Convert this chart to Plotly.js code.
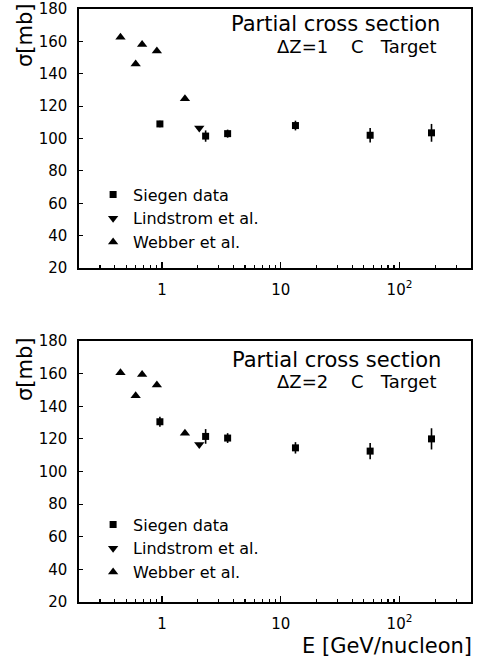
<!DOCTYPE html>
<html><head><meta charset="utf-8">
<script src="https://cdn.plot.ly/plotly-3.0.1.min.js"></script>
<style>html,body{margin:0;padding:0;background:#fff;}</style>
</head><body>
<div id="chart" style="width:477px;height:659px;"></div>
<script>
// ---- data ----
const E_siegen = [0.96, 2.33, 3.57, 13.3, 56.6, 186];
const sig_siegen_dz1 = [109, 101.5, 103, 108, 102, 103.5];
const err_siegen_dz1 = [2, 3.5, 2.5, 3, 4.5, 5.5];
const sig_siegen_dz2 = [130.5, 121.5, 120.5, 114.5, 112.5, 120];
const err_siegen_dz2 = [3, 4.5, 3, 3.5, 5, 6.5];

const E_lindstrom = [2.06];
const sig_lindstrom_dz1 = [106.5];
const sig_lindstrom_dz2 = [116.5];

const E_webber = [0.447, 0.6, 0.68, 0.905, 1.56];
const sig_webber_dz1 = [162.5, 146, 158, 154, 124.5];
const sig_webber_dz2 = [160.5, 146.5, 159.5, 153, 123.5];

const xTickVals = [1, 10, 100];
const xTickText = ['1', '10', '10<sup>2</sup>'];
const xMinorVals = [0.3,0.4,0.5,0.6,0.7,0.8,0.9,2,3,4,5,6,7,8,9,20,30,40,50,60,70,80,90,200,300];
const legendNames = ['Siegen data', 'Lindstrom et al.', 'Webber et al.'];

// ---- style ----
const FONT = 'DejaVu Sans';
const TOP = 9, BOT = 602, LEFT = 79, RIGHT = 471;
const H = BOT - TOP, W = RIGHT - LEFT;
function py(p){ return (BOT - p) / H; }
function px(p){ return (p - LEFT) / W; }
function xAxis(anchor){
  return {
    type:'log', range:[Math.log10(0.2), Math.log10(400)], anchor:anchor,
    tickmode:'array', tickvals:xTickVals, ticktext:xTickText,
    ticks:'inside', ticklen:6, tickwidth:1.3, tickcolor:'#000',
    minor:{tickmode:'array', tickvals:xMinorVals, ticks:'inside', ticklen:3, tickwidth:1.2, tickcolor:'#000'},
    showline:true, mirror:true, linewidth:1.6, linecolor:'#000',
    showgrid:false, zeroline:false, ticklabelstandoff:7, ticklabeloverflow:'allow',
    tickfont:{family:FONT, size:15, color:'#000'}
  };
}
function yAxis(domain, anchor){
  return {
    range:[20,180], dtick:20, tick0:20, domain:domain, anchor:anchor,
    ticks:'inside', ticklen:4, tickwidth:1.2, tickcolor:'#000',
    showline:true, mirror:true, linewidth:1.6, linecolor:'#000',
    showgrid:false, zeroline:false, ticklabelstandoff:7, ticklabeloverflow:'allow',
    tickfont:{family:FONT, size:15, color:'#000'}
  };
}
function traces(xa, ya, leg, sigS, errS, sigL, sigW){
  return [
    {x:E_siegen, y:sigS, xaxis:xa, yaxis:ya, legend:leg, name:legendNames[0], type:'scatter', mode:'markers',
     marker:{symbol:'square', size:7, color:'#000'},
     error_y:{type:'data', array:errS, visible:true, width:0, thickness:1.6, color:'#000'}},
    {x:E_lindstrom, y:sigL, xaxis:xa, yaxis:ya, legend:leg, name:legendNames[1], type:'scatter', mode:'markers',
     marker:{symbol:'triangle-down', size:9, color:'#000'}},
    {x:E_webber, y:sigW, xaxis:xa, yaxis:ya, legend:leg, name:legendNames[2], type:'scatter', mode:'markers',
     marker:{symbol:'triangle-up', size:9, color:'#000'}}
  ];
}
const data = [].concat(
  traces('x','y','legend', sig_siegen_dz1, err_siegen_dz1, sig_lindstrom_dz1, sig_webber_dz1),
  traces('x2','y2','legend2', sig_siegen_dz2, err_siegen_dz2, sig_lindstrom_dz2, sig_webber_dz2)
);
function legendCfg(topPx){
  return {x:0.036, y:py(topPx), xanchor:'left', yanchor:'top', bgcolor:'rgba(0,0,0,0)', borderwidth:0,
    itemwidth:30, font:{family:FONT, size:16, color:'#000'}, traceorder:'normal', itemclick:false};
}
const f21 = {family:FONT, size:21, color:'#000'};
const f18 = {family:FONT, size:18, color:'#000'};
function txt(text, x, y, font, xanchor, angle){
  return {text:text, xref:'paper', yref:'paper', x:px(x), y:py(y), xanchor:xanchor||'center', yanchor:'middle',
    textangle:angle||0, showarrow:false, font:font};
}
const layout = {
  width:477, height:659,
  margin:{l:LEFT, r:477-RIGHT, t:TOP, b:659-BOT},
  paper_bgcolor:'#fff', plot_bgcolor:'#fff',
  showlegend:true,
  xaxis: xAxis('y'),
  yaxis: yAxis([py(268), 1], 'x'),
  xaxis2: xAxis('y2'),
  yaxis2: yAxis([0, py(341)], 'x2'),
  legend: legendCfg(177.5),
  legend2: legendCfg(507.5),
  annotations:[
    txt('Partial cross section', 335, 24, f21),
    txt('ΔZ=1    C   Target', 357, 47, f18),
    txt('Partial cross section', 336, 360, f21),
    txt('ΔZ=2    C   Target', 357, 381, f18),
    txt('σ[mb]', 25, 36, f21, 'center', -90),
    txt('σ[mb]', 25, 370, f21, 'center', -90),
    txt('E [GeV/nucleon]', 474, 646, f21, 'right')
  ]
};
Plotly.newPlot('chart', data, layout, {staticPlot:true, displayModeBar:false});
</script>
</body></html>
